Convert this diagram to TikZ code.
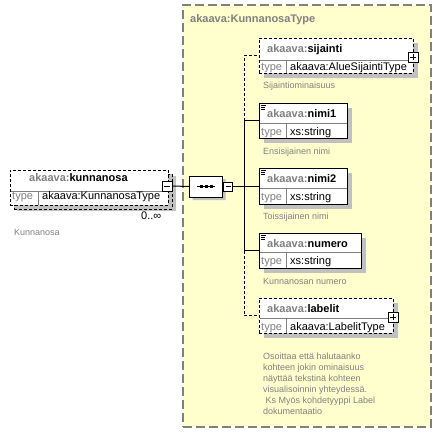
\documentclass[tikz,border=0pt]{standalone}
\usepackage{fontspec}
\setmainfont{Liberation Sans}
\usetikzlibrary{shapes.misc}
\definecolor{ybg}{RGB}{255,255,206}
\definecolor{tgray}{RGB}{128,128,128}
\definecolor{shd}{RGB}{192,192,192}
\begin{document}
\begin{tikzpicture}[x=1pt,y=-1pt,
  ctbox/.style={draw=tgray, fill=ybg, line width=1.2pt, dash pattern=on 9pt off 4pt, anchor=north west, inner sep=0pt, outer sep=0pt, rectangle},
  ebox/.style={draw=black, fill=white, line width=1pt, inner sep=0pt, outer sep=0pt, anchor=north west, rectangle},
  optbox/.style={ebox, dash pattern=on 3pt off 2pt},
  divl/.style={draw=tgray, line width=0.8pt},
  nm/.style={anchor=base west, inner sep=0pt, font=\fontsize{11}{13}\selectfont\bfseries},
  ty/.style={anchor=base west, inner sep=0pt, font=\fontsize{11}{13}\selectfont},
  tylab/.style={ty, text=tgray},
  desc/.style={anchor=base west, inner sep=0pt, font=\fontsize{9}{11}\selectfont, text=tgray},
  ttl/.style={anchor=base west, inner sep=0pt, font=\fontsize{11}{13}\selectfont\bfseries, text=tgray},
  conn/.style={draw=black, line width=1pt},
  optconn/.style={conn, dash pattern=on 3pt off 2pt},
  pmbox/.style={draw=black, fill=white, line width=0.8pt, minimum size=10pt, inner sep=0pt, outer sep=0pt, rectangle},
  icon/.style={draw=black, line width=0.7pt},
  seqshape/.style={chamfered rectangle, chamfered rectangle xsep=6pt, chamfered rectangle ysep=6pt, minimum width=33pt, minimum height=21pt, inner sep=0pt, outer sep=0pt}
]
\useasboundingbox (0,0) rectangle (442,434);

% complex type container
\node[ctbox, minimum width=248pt, minimum height=422pt] (ctype) at (183,5) {};
\node[ttl] (title) at (190,22) {akaava:KunnanosaType};

% kunnanosa element (repeated: stacked box behind)
\fill[shd] (17,176) rectangle (176,211);
\node[optbox, fill=shd, minimum width=158pt, minimum height=35pt] (kunnanosa-back) at (14,174) {};
\node[optbox, minimum width=158pt, minimum height=35pt] (kunnanosa) at (10,170) {};
\draw[divl] (10.5,191) -- (167.5,191);
\draw[divl] (38,191) -- (38,204.5);
\node[nm] (kn-n) at (29,181) {\textcolor{tgray}{akaava:}kunnanosa};
\node[tylab] (kn-t1) at (12,199.5) {type};
\node[ty] (kn-t2) at (42,199.5) {akaava:KunnanosaType};
\node[pmbox] (kn-m) at (167,186) {};
\draw[conn, line width=0.8pt] ([xshift=2pt]kn-m.west) -- ([xshift=-2pt]kn-m.east);
\node[ty] (kn-occ) at (141,219) {0..∞};
\node[desc] (kn-d) at (14,235) {Kunnanosa};

% sequence compositor
\node[seqshape, fill=shd] (seq-s) at (209,189.5) {};
\node[seqshape, draw=black, fill=white, line width=1pt] (seq) at (206,186.5) {};
\draw[black, line width=0.8pt] (197,186.5) -- (215,186.5);
\fill[black] (200,185) rectangle (203,188);
\fill[black] (205,185) rectangle (208,188);
\fill[black] (210,185) rectangle (213,188);
\node[pmbox, minimum size=9pt] (seq-m) at (228,186.5) {};
\draw[conn, line width=0.8pt] ([xshift=2pt]seq-m.west) -- ([xshift=-2pt]seq-m.east);
\draw[conn] (kn-m.east) -- (seq.west);
\coordinate (bus) at (244,186.5);
\draw[conn] (seq-m.east) -- (bus);

% sijainti
\fill[shd] (264,43) rectangle (418,78);
\node[optbox, minimum width=154pt, minimum height=35pt] (sijainti) at (259,38) {};
\draw[divl] (259.5,60) -- (412.5,60);
\draw[divl] (286,60) -- (286,72.5);
\node[nm] (sj-n) at (267,52) {\textcolor{tgray}{akaava:}sijainti};
\node[tylab] (sj-t1) at (261,70) {type};
\node[ty] (sj-t2) at (290,70) {akaava:AlueSijaintiType};
\node[pmbox] (sj-p) at (413,57) {};
\draw[conn, line width=0.8pt] ([xshift=2pt]sj-p.west) -- ([xshift=-2pt]sj-p.east);
\draw[conn, line width=0.8pt] ([yshift=2pt]sj-p.south) -- ([yshift=-2pt]sj-p.north);
\node[desc] (sj-d) at (263,88.5) {Sijaintiominaisuus};

% nimi1
\fill[shd] (264,108) rectangle (352,143);
\node[ebox, minimum width=88pt, minimum height=35pt] (nimi1) at (259,103) {};
\draw[divl] (259.5,123) -- (346.5,123);
\draw[divl] (286,123) -- (286,137.5);
\draw[icon] (261,105) -- (266,105);
\draw[icon] (261,107) -- (265,107);
\draw[icon] (261,109) -- (265,109);
\node[nm] (n1-n) at (267,117) {\textcolor{tgray}{akaava:}nimi1};
\node[tylab] (n1-t1) at (261,135.5) {type};
\node[ty] (n1-t2) at (290,135.5) {xs:string};
\node[desc] (n1-d) at (263,154.5) {Ensisijainen nimi};

% nimi2
\fill[shd] (264,173) rectangle (352,209);
\node[ebox, minimum width=88pt, minimum height=36pt] (nimi2) at (259,168) {};
\draw[divl] (259.5,188) -- (346.5,188);
\draw[divl] (286,188) -- (286,203.5);
\draw[icon] (261,170) -- (266,170);
\draw[icon] (261,172) -- (265,172);
\draw[icon] (261,174) -- (265,174);
\node[nm] (n2-n) at (267,182) {\textcolor{tgray}{akaava:}nimi2};
\node[tylab] (n2-t1) at (261,200.5) {type};
\node[ty] (n2-t2) at (290,200.5) {xs:string};
\node[desc] (n2-d) at (263,219.5) {Toissijainen nimi};

% numero
\fill[shd] (264,238) rectangle (366,273);
\node[ebox, minimum width=102pt, minimum height=35pt] (numero) at (259,233) {};
\draw[divl] (259.5,252) -- (360.5,252);
\draw[divl] (286,252) -- (286,267.5);
\draw[icon] (261,235) -- (266,235);
\draw[icon] (261,237) -- (265,237);
\draw[icon] (261,239) -- (265,239);
\node[nm] (nu-n) at (267,247) {\textcolor{tgray}{akaava:}numero};
\node[tylab] (nu-t1) at (261,264.5) {type};
\node[ty] (nu-t2) at (290,264.5) {xs:string};
\node[desc] (nu-d) at (263,284) {Kunnanosan numero};

% labelit
\fill[shd] (264,303) rectangle (398,338);
\node[optbox, minimum width=134pt, minimum height=35pt] (labelit) at (259,298) {};
\draw[divl] (259.5,318) -- (392.5,318);
\draw[divl] (286,318) -- (286,332.5);
\node[nm] (lb-n) at (267,312) {\textcolor{tgray}{akaava:}labelit};
\node[tylab] (lb-t1) at (261,330) {type};
\node[ty] (lb-t2) at (290,330) {akaava:LabelitType};
\node[pmbox] (lb-p) at (393,317) {};
\draw[conn, line width=0.8pt] ([xshift=2pt]lb-p.west) -- ([xshift=-2pt]lb-p.east);
\draw[conn, line width=0.8pt] ([yshift=2pt]lb-p.south) -- ([yshift=-2pt]lb-p.north);
\node[desc] (lb-d1) at (263,359.5) {Osoittaa että halutaanko};
\node[desc] (lb-d2) at (263,370.5) {kohteen jokin ominaisuus};
\node[desc] (lb-d3) at (263,381.5) {näyttää tekstinä kohteen};
\node[desc] (lb-d4) at (263,392.5) {visualisoinnin yhteydessä.};
\node[desc] (lb-d5) at (265.5,403.5) {Ks Myös kohdetyyppi Label};
\node[desc] (lb-d6) at (263,414.5) {dokumentaatio};

% connectors from the sequence bus
\draw[conn] (bus) |- (nimi1.west);
\draw[conn] (bus) |- (nimi2.west);
\draw[conn] (bus) |- (numero.west);
\draw[optconn] (bus |- nimi1.west) |- (sijainti.west);
\draw[optconn] (bus |- numero.west) |- (labelit.west);
\end{tikzpicture}
\end{document}
